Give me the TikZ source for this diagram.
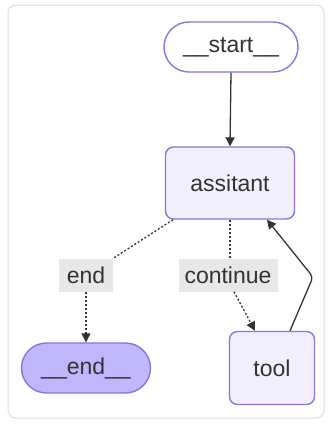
\documentclass[tikz,border=0pt]{standalone}
\usepackage{fontspec}
\setmainfont{Liberation Sans}
\usetikzlibrary{arrows.meta}
\definecolor{nfill}{HTML}{F2F0FF}
\definecolor{nstroke}{HTML}{9370DB}
\definecolor{endfill}{HTML}{BFB6FC}
\definecolor{txt}{HTML}{333333}
\definecolor{lblfill}{HTML}{E8E8E8}
\definecolor{card}{HTML}{DDDDDD}
\tikzset{
  x=1pt, y=-1pt,
  base/.style={draw=nstroke, line width=1.4pt, text=txt, font=\fontsize{23}{27}\selectfont, inner sep=0pt},
  boxnode/.style={base, fill=nfill, rounded corners=8pt, minimum width=129pt, minimum height=72pt},
  toolnode/.style={base, fill=nfill, rounded corners=8pt, minimum width=85pt, minimum height=73pt},
  pill/.style={base, rounded corners=25pt, minimum height=50pt},
  elabel/.style={fill=lblfill, text=txt, font=\fontsize{23}{27}\selectfont, inner sep=0pt, minimum height=33pt},
  edge/.style={draw=txt, line width=1.3pt, -{Triangle[length=9pt,width=9pt]}},
  dotedge/.style={edge, dash pattern=on 2pt off 2pt},
  plain/.style={draw=txt, line width=1.3pt, dash pattern=on 2pt off 2pt},
}
\begin{document}
\begin{tikzpicture}
\useasboundingbox (0,0) rectangle (333,426);
\fill[white] (0,0) rectangle (333,426);
\draw[card, line width=1pt, rounded corners=8pt] (8,5) rectangle (324,418);

\node[pill, fill=white, minimum width=134pt] (start) at (231,47) {\_\_start\_\_};
\node[boxnode] (assistant) at (230,183) {assitant};
\node[pill, fill=endfill, minimum width=129pt] (end) at (86,368) {\_\_end\_\_};
\node[toolnode] (tool) at (272,368) {tool};
\node[elabel, minimum width=54pt] (lend) at (86,275) {end};
\node[elabel, minimum width=99pt] (lcont) at (228,275) {continue};

\draw[edge] (start.south) -- (assistant.north);

\coordinate (a1) at ([xshift=-57pt]assistant.south);
\draw[plain] (a1) -- (lend.north east);
\draw[dotedge] (lend.south) -- (end.north);

\coordinate (a2) at (assistant.south);
\draw[plain] (a2) -- (lcont.north -| a2);
\coordinate (c1) at ([xshift=6pt]lcont.south);
\coordinate (c2) at ([xshift=-17pt]tool.north);
\draw[dotedge] (c1) -- (c2);

\coordinate (t1) at ([xshift=18pt]tool.north);
\coordinate (bend) at (313,277);
\coordinate (a3) at ([xshift=37pt]assistant.south);
\draw[edge, rounded corners=4pt] (t1) -- (bend) -- (a3);
\end{tikzpicture}
\end{document}
